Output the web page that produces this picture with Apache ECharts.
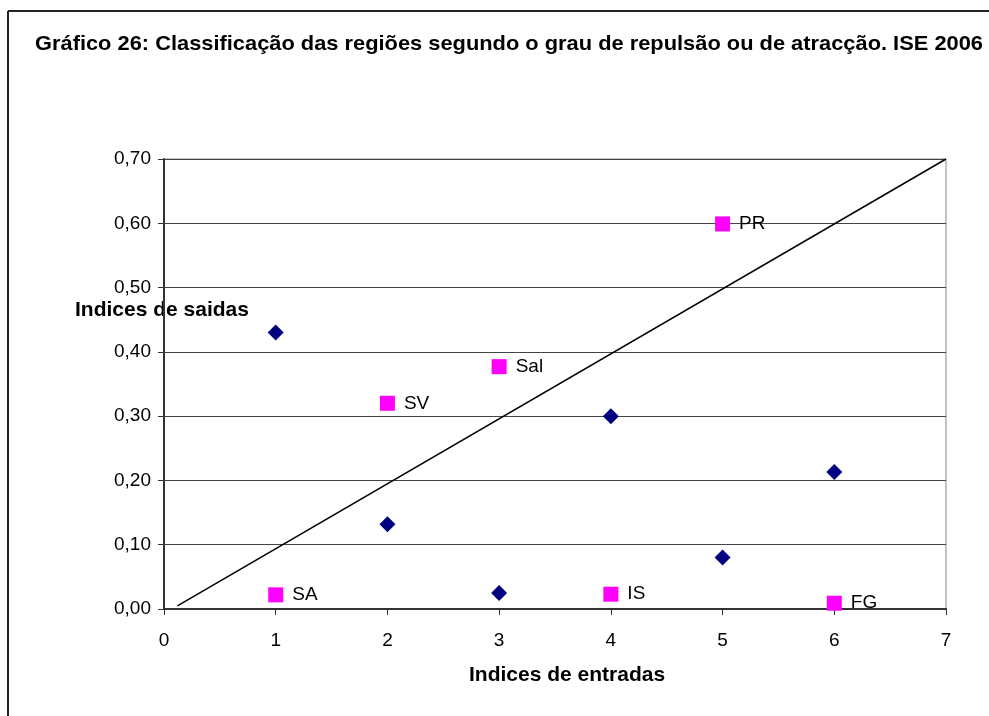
<!DOCTYPE html>
<html>
<head>
<meta charset="utf-8">
<script src="https://cdn.jsdelivr.net/npm/echarts@6/dist/echarts.min.js"></script>
<style>
  html, body { margin: 0; padding: 0; background: #fff; }
  #chart { width: 989px; height: 716px; }
</style>
</head>
<body>
<div id="chart"></div>
<script>
// valores
var saidaX = [1, 2, 3, 4, 5, 6]
var saidaY = [0.430, 0.132, 0.025, 0.300, 0.080, 0.213]

var regioes = ['SA', 'SV', 'Sal', 'IS', 'PR', 'FG']
var regiaoX = [1, 2, 3, 4, 5, 6]
var regiaoY = [0.022, 0.320, 0.377, 0.023, 0.599, 0.009]

var linhaX = [0.12, 7]
var linhaY = [0.005, 0.70]

var xTicks = [0, 1, 2, 3, 4, 5, 6, 7]
var yTicks = [0, 0.1, 0.2, 0.3, 0.4, 0.5, 0.6, 0.7]

var font = 'Liberation Sans, Arial, sans-serif'

var myChart = echarts.init(document.getElementById('chart'))

var option = {
  animation: false,
  backgroundColor: '#fff',
  grid: {
    left: 164,
    right: 43,
    top: 159,
    bottom: 107,
    show: true,
    borderColor: '#888',
    borderWidth: 1
  },
  graphic: [
    // moldura (só esquerda e topo visíveis)
    { type: 'line', shape: { x1: 8, y1: 11, x2: 989, y2: 11 }, style: { stroke: '#222', lineWidth: 2 } },
    { type: 'line', shape: { x1: 8, y1: 11, x2: 8, y2: 716 }, style: { stroke: '#222', lineWidth: 2 } },
    {
      type: 'text', x: 35, y: 34, scaleX: 1.04,
      style: { text: 'Gráfico 26: Classificação das regiões segundo o grau de repulsão ou de atracção. ISE 2006',
        font: 'bold 21px "Liberation Sans Narrow", "Arial Narrow", sans-serif', fill: '#000' }
    },
    {
      type: 'text', left: 75, top: 300,
      style: { text: 'Indices de saidas', font: 'bold 21px ' + font, fill: '#000' }
    },
    {
      type: 'text', left: 469, top: 665,
      style: { text: 'Indices de entradas', font: 'bold 21px ' + font, fill: '#000' }
    }
  ],
  xAxis: {
    type: 'value',
    min: xTicks[0],
    max: xTicks[xTicks.length - 1],
    interval: 1,
    axisLine: { show: true, onZero: false, lineStyle: { color: '#333', width: 2 } },
    axisTick: { show: true, length: 6, lineStyle: { color: '#333' } },
    axisLabel: { color: '#000', fontSize: 19, fontFamily: font, margin: 22 },
    splitLine: { show: false }
  },
  yAxis: {
    type: 'value',
    min: yTicks[0],
    max: yTicks[yTicks.length - 1],
    interval: 0.1,
    axisLine: { show: true, onZero: false, lineStyle: { color: '#333', width: 2 } },
    axisTick: { show: true, length: 6, lineStyle: { color: '#333' } },
    axisLabel: {
      color: '#000', fontSize: 19, fontFamily: font, margin: 13,
      formatter: function (v) { return v.toFixed(2).replace('.', ',') }
    },
    splitLine: { show: true, lineStyle: { color: '#444', width: 1 } }
  },
  series: [
    {
      type: 'line',
      data: linhaX.map(function (x, i) { return [x, linhaY[i]] }),
      symbol: 'none',
      lineStyle: { color: '#000', width: 1.5 },
      z: 2
    },
    {
      type: 'scatter',
      data: saidaX.map(function (x, i) { return [x, saidaY[i]] }),
      symbol: 'diamond',
      symbolSize: [16, 16],
      itemStyle: { color: '#000080', opacity: 1 },
      z: 3
    },
    {
      type: 'scatter',
      data: regiaoX.map(function (x, i) { return { value: [x, regiaoY[i]], name: regioes[i] } }),
      symbol: 'rect',
      symbolSize: 15,
      itemStyle: { color: '#ff00ff', opacity: 1 },
      label: {
        show: true,
        position: 'right',
        distance: 9,
        formatter: '{b}',
        color: '#000',
        fontSize: 19,
        fontFamily: font
      },
      z: 3
    }
  ]
}

myChart.setOption(option)
</script>
</body>
</html>
